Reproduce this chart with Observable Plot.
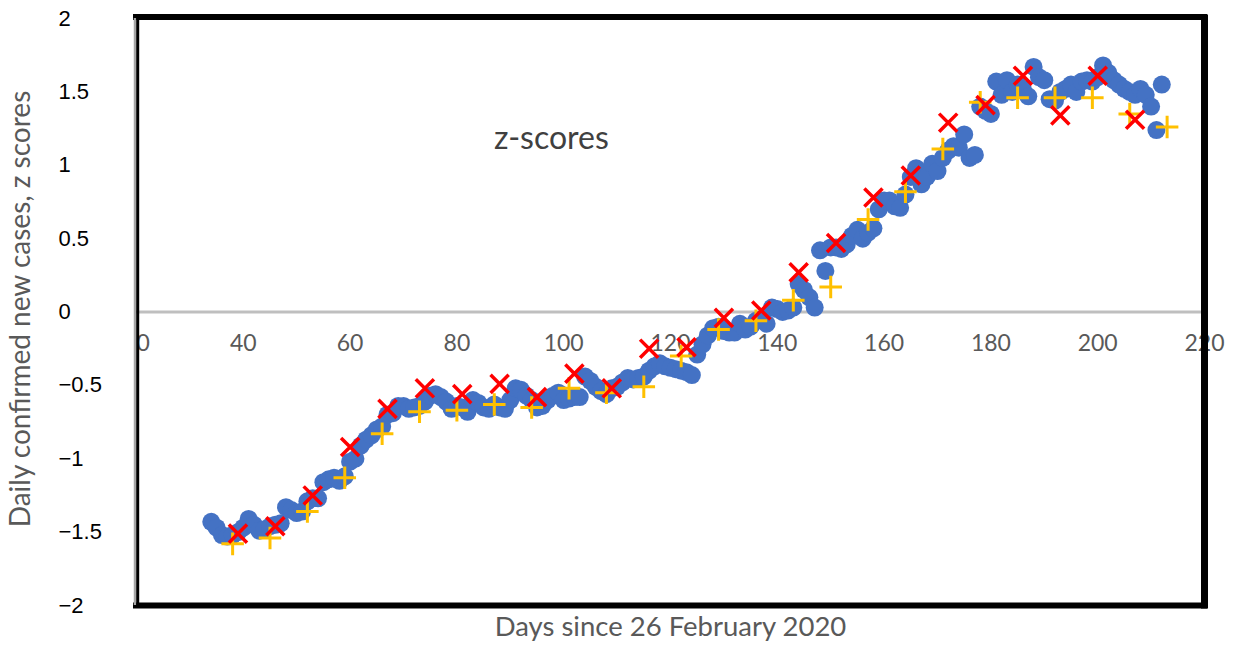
<!DOCTYPE html>
<html><head><meta charset="utf-8">
<script src="https://cdn.jsdelivr.net/npm/d3@7"></script>
<script src="https://cdn.jsdelivr.net/npm/@observablehq/plot@0.6"></script>
<style>body{margin:0;background:#fff} svg{display:block}</style>
</head><body><div id="chart"></div>
<script>
// Daily z-scores (blue circles)
const blueDays = [34,35,36,37,38,39,40,41,42,43,44,45,46,47,48,49,50,51,52,53,54,55,56,57,58,59,60,61,62,63,64,65,66,67,68,69,70,71,72,73,74,75,76,77,78,79,80,81,82,83,84,85,86,87,88,89,90,91,92,93,94,95,96,97,98,99,100,101,102,103,104,105,106,107,108,109,110,111,112,113,114,115,116,117,118,119,120,121,122,123,124,125,126,127,128,129,130,131,132,133,134,135,136,137,138,139,140,141,142,143,144,145,146,147,148,149,150,151,152,153,154,155,156,157,158,159,160,161,162,163,164,165,166,167,168,169,170,171,172,173,174,175,176,177,178,179,180,181,182,183,184,185,186,187,188,189,190,191,192,193,194,195,196,197,198,199,200,201,202,203,204,205,206,207,208,209,210,211,212];
const blueZ = [-1.43,-1.47,-1.52,-1.53,-1.52,-1.50,-1.47,-1.41,-1.45,-1.49,-1.48,-1.46,-1.45,-1.44,-1.33,-1.35,-1.37,-1.36,-1.29,-1.27,-1.27,-1.16,-1.14,-1.13,-1.15,-1.12,-1.02,-1.00,-0.91,-0.87,-0.84,-0.80,-0.78,-0.70,-0.69,-0.64,-0.64,-0.66,-0.65,-0.64,-0.61,-0.57,-0.56,-0.58,-0.61,-0.66,-0.64,-0.65,-0.68,-0.60,-0.62,-0.65,-0.66,-0.63,-0.65,-0.66,-0.60,-0.52,-0.53,-0.57,-0.60,-0.65,-0.64,-0.60,-0.57,-0.55,-0.60,-0.59,-0.58,-0.58,-0.44,-0.47,-0.51,-0.54,-0.56,-0.52,-0.51,-0.48,-0.45,-0.46,-0.45,-0.44,-0.40,-0.37,-0.35,-0.37,-0.38,-0.39,-0.40,-0.41,-0.43,-0.29,-0.22,-0.16,-0.11,-0.10,-0.13,-0.14,-0.14,-0.08,-0.12,-0.10,-0.06,-0.05,-0.08,0.03,0.02,0.00,0.01,0.03,0.19,0.15,0.10,0.03,0.42,0.28,0.44,0.44,0.43,0.46,0.52,0.56,0.50,0.54,0.57,0.70,0.76,0.76,0.72,0.71,0.80,0.92,0.98,0.87,0.92,1.01,0.96,1.05,1.10,1.13,1.12,1.21,1.05,1.07,1.40,1.37,1.35,1.57,1.48,1.58,1.50,1.55,1.52,1.47,1.67,1.60,1.58,1.45,1.44,1.50,1.52,1.55,1.50,1.57,1.58,1.57,1.60,1.68,1.63,1.58,1.55,1.52,1.50,1.48,1.52,1.48,1.40,1.24,1.55];

// Weekly series (red crosses)
const redDays = [39,46,53,60,67,74,81,88,95,102,109,116,123,130,137,144,151,158,165,172,179,186,193,200,207];
const redZ = [-1.51,-1.46,-1.25,-0.92,-0.66,-0.52,-0.56,-0.49,-0.58,-0.42,-0.52,-0.25,-0.24,-0.04,0.01,0.27,0.47,0.78,0.93,1.29,1.41,1.61,1.34,1.61,1.31];

// Weekly series (gold plus signs)
const goldDays = [38,45,52,59,66,73,80,87,94,101,108,115,122,129,136,143,150,157,164,171,178,185,192,199,206,213];
const goldZ = [-1.58,-1.54,-1.36,-1.13,-0.83,-0.68,-0.67,-0.63,-0.65,-0.52,-0.55,-0.51,-0.30,-0.12,-0.06,0.08,0.17,0.63,0.82,1.11,1.43,1.46,1.46,1.46,1.35,1.26];

const xTicks = [20,40,60,80,100,120,140,160,180,200,220];
const yTicks = [2,1.5,1,0.5,0,-0.5,-1,-1.5,-2];
const xTitle = "Days since 26 February 2020";
const yTitle = "Daily confirmed new cases, z scores";
const noteText = "z-scores";
const notePos = {day: 97.7, z: 1.18};

const blue = blueDays.map((d, i) => ({day: d, z: blueZ[i]}));
const red = redDays.map((d, i) => ({day: d, z: redZ[i]}));
const gold = goldDays.map((d, i) => ({day: d, z: goldZ[i]}));

const calibri = "Lato, 'Open Sans', sans-serif";
const arial = "'Liberation Sans', Arial, sans-serif";

const chart = Plot.plot({
  width: 1234,
  height: 645,
  marginLeft: 136,
  marginRight: 30,
  marginTop: 18,
  marginBottom: 40,
  x: {domain: [20, 220], axis: null},
  y: {domain: [-2, 2], axis: null},
  style: {background: "#fff"},
  marks: [
    Plot.ruleY([0], {stroke: "#bfbfbf", strokeWidth: 3}),
    Plot.text(xTicks.filter(t => t > 20), {x: d => d, y: 0, dy: 32, text: d => String(d), fill: "#595959", fontSize: 23, fontFamily: calibri}),
    Plot.text(xTicks.filter(t => t === 20), {x: d => d, y: 0, dy: 32, text: d => String(d), fill: "#595959", fontSize: 23, fontFamily: calibri, clip: "frame"}),
    Plot.text(yTicks, {y: d => d, frameAnchor: "left", dx: -78, textAnchor: "start", text: d => d3.format("~g")(d), fill: "#000", fontSize: 22, fontFamily: arial}),
    Plot.text([yTitle], {frameAnchor: "left", dx: -115, dy: -3, textAnchor: "middle", rotate: -90, text: d => d, fill: "#595959", fontSize: 28, fontFamily: calibri}),
    Plot.text([xTitle], {frameAnchor: "bottom", dy: 30, textAnchor: "middle", text: d => d, fill: "#595959", fontSize: 27.5, fontFamily: calibri}),
    Plot.text([notePos], {x: "day", y: "z", text: () => noteText, fill: "#404040", fontSize: 32, fontFamily: calibri}),
    Plot.dot(blue, {x: "day", y: "z", r: 9, fill: "#4472C4", stroke: "none"}),
    Plot.dot(gold, {x: "day", y: "z", symbol: "plus", r: 7.3, stroke: "#FFC000", strokeWidth: 3}),
    Plot.dot(red, {x: "day", y: "z", symbol: "times", r: 8.3, stroke: "#FF0000", strokeWidth: 3.5}),
    Plot.ruleY([2], {stroke: "#000", strokeWidth: 6, dy: -1.5, strokeLinecap: "square"}),
    Plot.ruleY([-2], {stroke: "#000", strokeWidth: 6, strokeLinecap: "square"}),
    Plot.ruleX([220], {stroke: "#000", strokeWidth: 7, strokeLinecap: "square"}),
    Plot.ruleX([20], {stroke: "#a6a6a6", strokeWidth: 2.5, dx: -1.5}),
    Plot.ruleX([20], {stroke: "#000", strokeWidth: 3, dx: 1.2})
  ]
});
document.getElementById("chart").appendChild(chart);
</script>
</body></html>
